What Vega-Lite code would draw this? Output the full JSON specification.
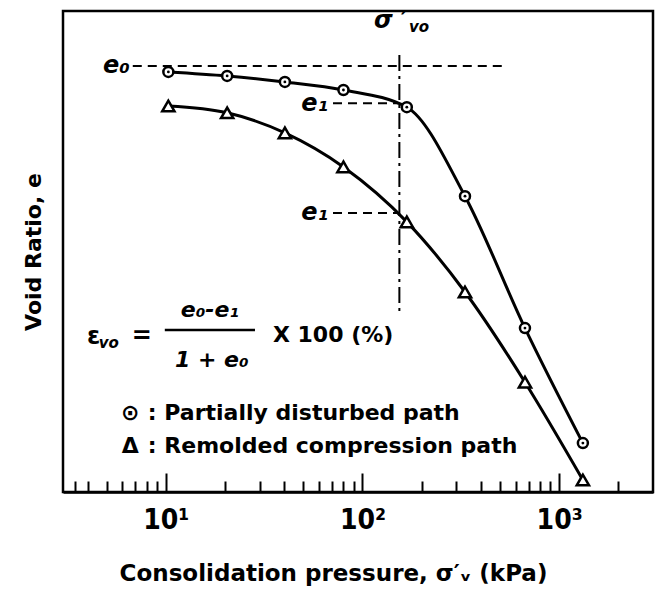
{
  "$schema": "https://vega.github.io/schema/vega-lite/v6.json",
  "width": 590,
  "height": 481,
  "autosize": {"type": "none"},
  "padding": {"left": 63, "top": 11, "right": 9, "bottom": 100},
  "background": "white",
  "config": {
    "view": {"stroke": "black", "strokeWidth": 2.5},
    "font": "DejaVu Sans"
  },
  "datasets": {
    "pts": [
      {"p": 10.3, "e": 1.848, "path": "Partially disturbed"},
      {"p": 20.5, "e": 1.838, "path": "Partially disturbed"},
      {"p": 40.3, "e": 1.823, "path": "Partially disturbed"},
      {"p": 80, "e": 1.803, "path": "Partially disturbed"},
      {"p": 168, "e": 1.760, "path": "Partially disturbed"},
      {"p": 332, "e": 1.538, "path": "Partially disturbed"},
      {"p": 670, "e": 1.209, "path": "Partially disturbed"},
      {"p": 1320, "e": 0.922, "path": "Partially disturbed"},
      {"p": 10.3, "e": 1.763, "path": "Remolded"},
      {"p": 20.5, "e": 1.746, "path": "Remolded"},
      {"p": 40.3, "e": 1.696, "path": "Remolded"},
      {"p": 80, "e": 1.611, "path": "Remolded"},
      {"p": 168, "e": 1.474, "path": "Remolded"},
      {"p": 332, "e": 1.299, "path": "Remolded"},
      {"p": 670, "e": 1.074, "path": "Remolded"},
      {"p": 1320, "e": 0.830, "path": "Remolded"}
    ],
    "hdash": [
      {"p": 6.79, "p2": 513, "e": 1.863},
      {"p": 70.8, "p2": 154, "e": 1.770},
      {"p": 70.8, "p2": 154, "e": 1.496}
    ],
    "vline": [
      {"p": 154, "e": 1.890, "e2": 1.247}
    ],
    "frac": [
      {"p": 9.88, "p2": 28.4, "e": 1.2042}
    ],
    "texts": [
      {"p": 6.56, "e": 1.8628, "t": "e₀", "k": "right_it"},
      {"p": 66.8, "e": 1.768, "t": "e₁", "k": "right_it"},
      {"p": 66.8, "e": 1.496, "t": "e₁", "k": "right_it"},
      {"p": 114.4, "e": 1.975, "t": "σ ′", "k": "left_it"},
      {"p": 193.9, "e": 1.960, "t": "vo", "k": "sub"},
      {"p": 5.13, "e": 1.1717, "t": "vo", "k": "sub"},
      {"p": 4.30, "e": 1.1867, "t": "ε", "k": "center"},
      {"p": 7.55, "e": 1.189, "t": "=", "k": "center"},
      {"p": 16.74, "e": 1.254, "t": "e₀-e₁", "k": "center_it"},
      {"p": 17.14, "e": 1.1293, "t": "1 + e₀", "k": "center_it"},
      {"p": 35.04, "e": 1.1917, "t": "X 100 (%)", "k": "left"},
      {"p": 8.10, "e": 0.9971, "t": ": Partially disturbed path", "k": "left"},
      {"p": 8.10, "e": 0.9148, "t": ": Remolded compression path", "k": "left"},
      {"p": 6.6, "e": 0.9971, "t": "⊙", "k": "sym"},
      {"p": 6.6, "e": 0.9148, "t": "Δ", "k": "sym"}
    ]
  },
  "encoding": {
    "x": {
      "field": "p",
      "type": "quantitative",
      "scale": {"type": "log", "domain": [3, 3000], "nice": false},
      "axis": {
        "title": "Consolidation  pressure, σ′ᵥ (kPa)",
        "values": [3.45, 4, 5, 6, 7, 8, 9, 10, 20, 30, 40, 50, 60, 70, 80, 90, 100, 200, 300, 400, 500, 600, 700, 800, 900, 1000, 2000],
        "ticks": true,
        "tickSize": {"condition": {"test": "datum.value == 10 || datum.value == 100 || datum.value == 1000", "value": -19}, "value": -11},
        "tickWidth": 2,
        "tickColor": "black",
        "grid": false,
        "labelOverlap": false,
        "labelFlush": false,
        "labelExpr": "datum.value == 10 ? '10¹' : datum.value == 100 ? '10²' : datum.value == 1000 ? '10³' : ''",
        "labelFont": "Liberation Sans Narrow, DejaVu Sans Condensed, sans-serif",
        "labelFontSize": 28,
        "labelFontWeight": "bold",
        "labelColor": "black",
        "labelPadding": 33,
        "domainColor": "black",
        "domainWidth": 2.5,
        "titleFont": "DejaVu Sans",
        "titleFontSize": 23,
        "titleFontWeight": "bold",
        "titleColor": "black",
        "titlePadding": 20,
        "titleX": 270
      }
    },
    "y": {
      "field": "e",
      "type": "quantitative",
      "scale": {"domain": [0.8, 2.0], "nice": false, "zero": false},
      "axis": {
        "title": "Void Ratio, e",
        "ticks": false,
        "labels": false,
        "domain": false,
        "grid": false,
        "titleFont": "DejaVu Sans",
        "titleFontSize": 22,
        "titleFontWeight": "bold",
        "titleColor": "black",
        "titlePadding": 18
      }
    }
  },
  "layer": [
    {
      "data": {"name": "hdash"},
      "mark": {"type": "rule", "strokeDash": [9, 6], "strokeWidth": 2, "color": "black"},
      "encoding": {"x2": {"field": "p2"}}
    },
    {
      "data": {"name": "vline"},
      "mark": {"type": "rule", "strokeDash": [16, 5, 3, 5], "strokeWidth": 2, "color": "black"},
      "encoding": {"y2": {"field": "e2"}}
    },
    {
      "data": {"name": "frac"},
      "mark": {"type": "rule", "strokeWidth": 2.5, "color": "black"},
      "encoding": {"x2": {"field": "p2"}}
    },
    {
      "data": {"name": "pts"},
      "mark": {"type": "line", "interpolate": "monotone", "strokeWidth": 3, "color": "black"},
      "encoding": {"detail": {"field": "path"}}
    },
    {
      "data": {"name": "pts"},
      "transform": [{"filter": "datum.path == 'Partially disturbed'"}],
      "mark": {"type": "point", "shape": "circle", "filled": true, "fill": "white", "stroke": "black", "strokeWidth": 2.5, "size": 100, "opacity": 1}
    },
    {
      "data": {"name": "pts"},
      "transform": [{"filter": "datum.path == 'Partially disturbed'"}],
      "mark": {"type": "point", "shape": "circle", "filled": true, "color": "black", "size": 8, "opacity": 1}
    },
    {
      "data": {"name": "pts"},
      "transform": [{"filter": "datum.path == 'Remolded'"}],
      "mark": {"type": "point", "shape": "triangle-up", "filled": true, "fill": "white", "stroke": "black", "strokeWidth": 2.5, "size": 150, "opacity": 1}
    },
    {
      "data": {"name": "texts"},
      "transform": [{"filter": "datum.k == 'right_it'"}],
      "mark": {"type": "text", "align": "right", "baseline": "middle", "font": "DejaVu Sans", "fontSize": 24, "fontWeight": "bold", "fontStyle": "italic", "color": "black"},
      "encoding": {"text": {"field": "t"}}
    },
    {
      "data": {"name": "texts"},
      "transform": [{"filter": "datum.k == 'left_it'"}],
      "mark": {"type": "text", "align": "left", "baseline": "middle", "font": "DejaVu Sans", "fontSize": 24, "fontWeight": "bold", "fontStyle": "italic", "color": "black"},
      "encoding": {"text": {"field": "t"}}
    },
    {
      "data": {"name": "texts"},
      "transform": [{"filter": "datum.k == 'sub'"}],
      "mark": {"type": "text", "align": "center", "baseline": "middle", "font": "DejaVu Sans", "fontSize": 15, "fontWeight": "bold", "fontStyle": "italic", "color": "black"},
      "encoding": {"text": {"field": "t"}}
    },
    {
      "data": {"name": "texts"},
      "transform": [{"filter": "datum.k == 'center'"}],
      "mark": {"type": "text", "align": "center", "baseline": "middle", "font": "DejaVu Sans", "fontSize": 24, "fontWeight": "bold", "color": "black"},
      "encoding": {"text": {"field": "t"}}
    },
    {
      "data": {"name": "texts"},
      "transform": [{"filter": "datum.k == 'center_it'"}],
      "mark": {"type": "text", "align": "center", "baseline": "middle", "font": "DejaVu Sans", "fontSize": 22, "fontWeight": "bold", "fontStyle": "italic", "color": "black"},
      "encoding": {"text": {"field": "t"}}
    },
    {
      "data": {"name": "texts"},
      "transform": [{"filter": "datum.k == 'left'"}],
      "mark": {"type": "text", "align": "left", "baseline": "middle", "font": "DejaVu Sans", "fontSize": 22, "fontWeight": "bold", "color": "black"},
      "encoding": {"text": {"field": "t"}}
    },
    {
      "data": {"name": "texts"},
      "transform": [{"filter": "datum.k == 'sym'"}],
      "mark": {"type": "text", "align": "center", "baseline": "middle", "font": "DejaVu Sans", "fontSize": 22, "fontWeight": "bold", "color": "black"},
      "encoding": {"text": {"field": "t"}}
    }
  ]
}
